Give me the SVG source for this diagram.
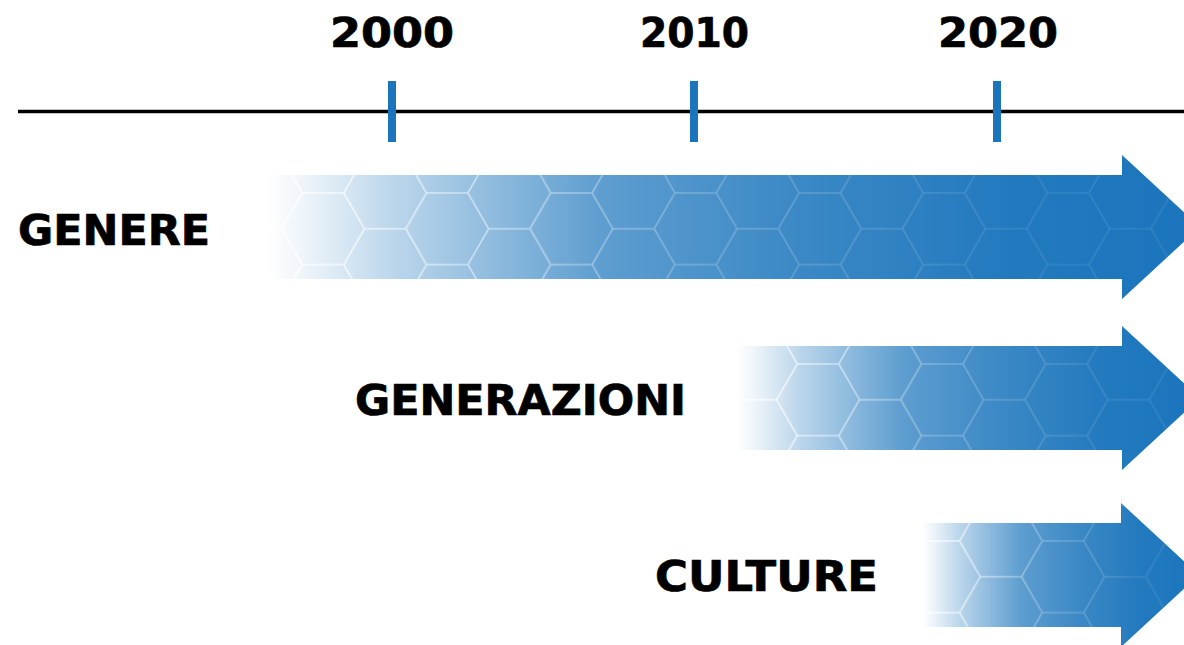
<svg xmlns="http://www.w3.org/2000/svg" width="1184" height="645" viewBox="0 0 1184 645">
  <style>
    .label { font-family: "DejaVu Sans", "Liberation Sans", sans-serif; font-weight: bold; fill: #000000; stroke: #000000; stroke-width: 0.7; }
    .year { font-size: 41px; }
    .row { font-size: 42px; }
    .tick { stroke: #1b75bc; stroke-width: 8; }
    .hex { fill: none; stroke: #ffffff; stroke-width: 1.6; }
  </style>
  <defs>
    <!-- blue fill that fades in from white on the left -->
    <linearGradient id="fadeBlue" x1="0" y1="0" x2="1" y2="0">
      <stop offset="0" stop-color="#1b75bc" stop-opacity="0"/>
      <stop offset="0.04" stop-color="#1b75bc" stop-opacity="0.08"/>
      <stop offset="0.14" stop-color="#1b75bc" stop-opacity="0.31"/>
      <stop offset="0.36" stop-color="#1b75bc" stop-opacity="0.71"/>
      <stop offset="0.57" stop-color="#1b75bc" stop-opacity="0.86"/>
      <stop offset="0.8" stop-color="#1b75bc" stop-opacity="0.97"/>
      <stop offset="1" stop-color="#1b75bc" stop-opacity="1"/>
    </linearGradient>
    <!-- honeycomb lines get fainter towards the arrow head -->
    <linearGradient id="lineFade" x1="0" y1="0" x2="1" y2="0">
      <stop offset="0" stop-color="#ffffff" stop-opacity="0.85"/>
      <stop offset="0.2" stop-color="#ffffff" stop-opacity="0.55"/>
      <stop offset="0.45" stop-color="#ffffff" stop-opacity="0.25"/>
      <stop offset="0.75" stop-color="#ffffff" stop-opacity="0.12"/>
      <stop offset="1" stop-color="#ffffff" stop-opacity="0.08"/>
    </linearGradient>
    <mask id="lineMask" maskContentUnits="objectBoundingBox">
      <rect x="0" y="0" width="1" height="1" fill="url(#lineFade)"/>
    </mask>

    <!-- flat-top hexagon tiling, side 41.4 -->
    <path id="hexTile" class="hex" d="M-2,17.9 H20.7 M41.4,-17.9 L20.7,17.9 L41.4,53.8 L82.8,53.8 L103.5,17.9 L82.8,-17.9 M20.7,89.6 L41.4,53.8 M82.8,53.8 L103.5,89.6 M103.5,17.9 H126.2"/>
    <pattern id="hex1" patternUnits="userSpaceOnUse" x="323" y="175" width="124.2" height="71.7">
      <use href="#hexTile"/>
    </pattern>
    <pattern id="hex2" patternUnits="userSpaceOnUse" x="818" y="346" width="124.2" height="71.7">
      <use href="#hexTile"/>
    </pattern>
    <pattern id="hex3" patternUnits="userSpaceOnUse" x="1063" y="523" width="124.2" height="71.7">
      <use href="#hexTile"/>
    </pattern>

    <path id="arrow1" d="M268,175 H1122 V155 L1200,227 L1122,299 V279 H268 Z"/>
    <path id="arrow2" d="M737,346 H1122 V326 L1200,398 L1122,470 V450 H737 Z"/>
    <path id="arrow3" d="M922,523 H1121 V503 L1199,575 L1121,647 V627 H922 Z"/>
    <clipPath id="clip1"><use href="#arrow1"/></clipPath>
    <clipPath id="clip2"><use href="#arrow2"/></clipPath>
    <clipPath id="clip3"><use href="#arrow3"/></clipPath>
  </defs>

  <rect width="1184" height="645" fill="#ffffff"/>

  <!-- time axis with decade ticks -->
  <g id="axis">
    <line x1="18" y1="111.5" x2="1184" y2="111.5" stroke="#000000" stroke-width="3.5"/>
    <line class="tick" x1="392" y1="81" x2="392" y2="142"/>
    <line class="tick" x1="694" y1="81" x2="694" y2="142"/>
    <line class="tick" x1="997" y1="81" x2="997" y2="142"/>
  </g>

  <g id="year-2000"><text class="label year" x="330" y="47" textLength="124" lengthAdjust="spacingAndGlyphs">2000</text></g>
  <g id="year-2010"><text class="label year" x="640" y="47" textLength="109" lengthAdjust="spacingAndGlyphs">2010</text></g>
  <g id="year-2020"><text class="label year" x="938" y="47" textLength="120" lengthAdjust="spacingAndGlyphs">2020</text></g>

  <!-- GENERE -->
  <g id="genere">
    <use href="#arrow1" fill="url(#fadeBlue)"/>
    <g clip-path="url(#clip1)">
      <rect x="268" y="155" width="932" height="144" fill="url(#hex1)" mask="url(#lineMask)"/>
    </g>
    <text class="label row" x="18" y="245" textLength="192" lengthAdjust="spacingAndGlyphs">GENERE</text>
  </g>

  <!-- GENERAZIONI -->
  <g id="generazioni">
    <use href="#arrow2" fill="url(#fadeBlue)"/>
    <g clip-path="url(#clip2)">
      <rect x="737" y="326" width="463" height="144" fill="url(#hex2)" mask="url(#lineMask)"/>
    </g>
    <text class="label row" x="355" y="415" textLength="331" lengthAdjust="spacingAndGlyphs">GENERAZIONI</text>
  </g>

  <!-- CULTURE -->
  <g id="culture">
    <use href="#arrow3" fill="url(#fadeBlue)"/>
    <g clip-path="url(#clip3)">
      <rect x="922" y="503" width="277" height="144" fill="url(#hex3)" mask="url(#lineMask)"/>
    </g>
    <text class="label row" x="655" y="591" textLength="223" lengthAdjust="spacingAndGlyphs">CULTURE</text>
  </g>
</svg>
